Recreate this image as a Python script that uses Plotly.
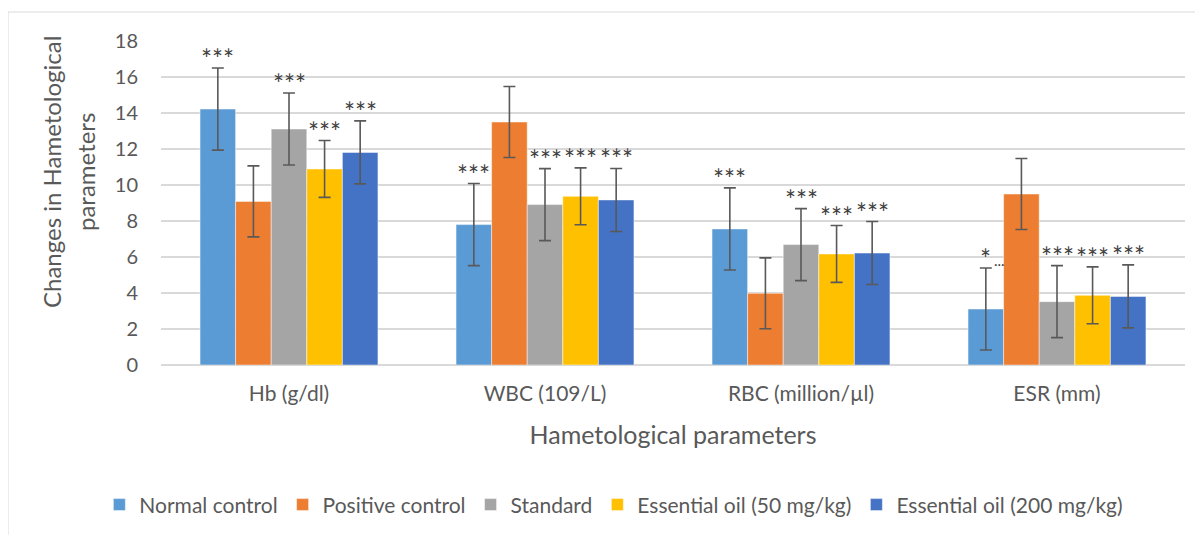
import plotly.graph_objects as go

categories = ["Hb (g/dl)", "WBC (109/L)", "RBC (million/µl)", "ESR (mm)"]
series_names = ["Normal control", "Positive control", "Standard",
                "Essential oil (50 mg/kg)", "Essential oil (200 mg/kg)"]
colors = ["#5B9BD5", "#ED7D31", "#A5A5A5", "#FFC000", "#4472C4"]

normal_control = [14.22, 7.80, 7.56, 3.11]
positive_control = [9.09, 13.50, 3.98, 9.50]
standard = [13.11, 8.91, 6.69, 3.52]
eo_50 = [10.89, 9.37, 6.17, 3.87]
eo_200 = [11.81, 9.17, 6.22, 3.81]

err_normal = [2.28, 2.28, 2.28, 2.28]
err_positive = [1.97, 1.97, 1.97, 1.97]
err_standard = [2.00, 2.00, 2.00, 2.00]
err_eo50 = [1.58, 1.58, 1.58, 1.58]
err_eo200 = [1.75, 1.75, 1.75, 1.75]

sig_normal = ["***", "***", "***", "*"]
sig_positive = ["", "", "", ""]
sig_standard = ["***", "***", "***", "***"]
sig_eo50 = ["***", "***", "***", "***"]
sig_eo200 = ["***", "***", "***", "***"]

values = [normal_control, positive_control, standard, eo_50, eo_200]
errors = [err_normal, err_positive, err_standard, err_eo50, err_eo200]
sigs = [sig_normal, sig_positive, sig_standard, sig_eo50, sig_eo200]

FONT = "Lato"
TXT = "#595959"

fig = go.Figure()
for name, vals, errs, col in zip(series_names, values, errors, colors):
    fig.add_trace(go.Bar(
        name=name, x=categories, y=vals,
        marker=dict(color=col, line=dict(color="rgba(255,255,255,0.6)", width=0.8)),
        error_y=dict(type="data", array=errs, visible=True,
                     color="#595959", thickness=1.6, width=6),
    ))

bar_px = 35.6
for i, (vals, errs, sg) in enumerate(zip(values, errors, sigs)):
    for j, cat in enumerate(categories):
        if not sg[j]:
            continue
        fig.add_annotation(
            x=cat, y=vals[j] + errs[j], xref="x", yref="y",
            text=sg[j], showarrow=False,
            xshift=(i - 2) * bar_px, yshift=-9, yanchor="bottom",
            font=dict(family=FONT, size=26, color="#404040"),
        )
# the clipped extra label at ESR normal control
fig.add_annotation(
    x=categories[3], y=normal_control[3] + err_normal[3], xref="x", yref="y",
    text="...", showarrow=False, xshift=(0 - 2) * bar_px + 14, yshift=-3,
    yanchor="bottom", font=dict(family=FONT, size=15, color="#404040"),
)

# y axis title, two lines
for txt, xp in [("Changes in Hametological", -0.1064), ("parameters", -0.0732)]:
    fig.add_annotation(
        x=xp, y=0.5957, xref="paper", yref="paper", xanchor="center",
        yanchor="middle", text=txt, textangle=-90, showarrow=False,
        font=dict(family=FONT, size=24, color=TXT),
    )

# outer chart frame
fig.add_shape(type="rect", xref="paper", yref="paper",
              x0=-0.1494, x1=1.03, y0=-0.6, y1=1.0895,
              line=dict(color="#D9D9D9", width=1), fillcolor="rgba(0,0,0,0)",
              layer="below")

fig.update_layout(
    width=1195, height=527,
    margin=dict(l=153, r=18, t=33, b=170, autoexpand=False),
    paper_bgcolor="white", plot_bgcolor="white",
    barmode="group", bargap=0.305, bargroupgap=0,
    font=dict(family=FONT, color=TXT),
    xaxis=dict(
        title=dict(text="Hametological parameters",
                   font=dict(family=FONT, size=25, color=TXT), standoff=22),
        tickfont=dict(family=FONT, size=21, color=TXT),
        ticklabelstandoff=14,
        showline=False, ticks="", showgrid=False, automargin=False,
    ),
    yaxis=dict(
        range=[0, 18], dtick=2, tick0=0,
        showgrid=True, gridcolor="#D9D9D9", gridwidth=1.5,
        zeroline=True, zerolinecolor="#D9D9D9", zerolinewidth=1.5,
        tickfont=dict(family=FONT, size=20, color=TXT),
        ticks="", ticklabelstandoff=22, showline=False, automargin=False,
    ),
    legend=dict(
        orientation="h", xref="container", x=0.507, xanchor="center",
        y=-0.432, yanchor="middle",
        font=dict(family=FONT, size=21, color=TXT),
        itemwidth=30, tracegroupgap=0,
    ),
    showlegend=True,
)

fig.write_html("out.html")
